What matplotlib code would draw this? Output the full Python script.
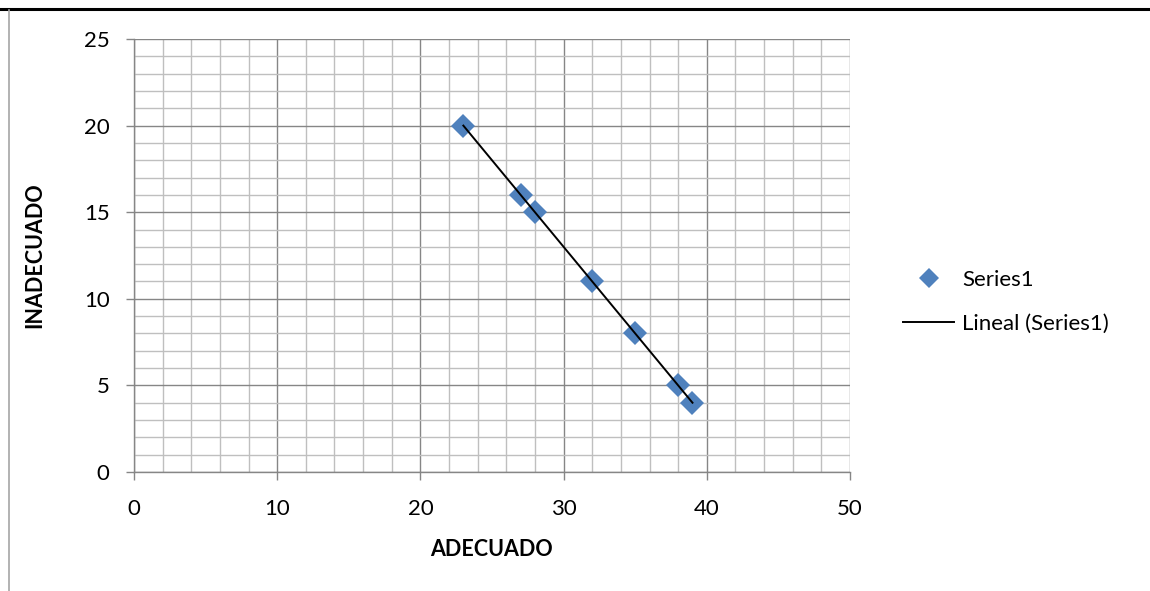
import matplotlib.pyplot as plt
import numpy as np
from matplotlib.lines import Line2D

plt.rcParams['font.family'] = ['Lato', 'DejaVu Sans']

# data
adecuado = [23, 27, 28, 32, 35, 38, 39]
inadecuado = [20, 16, 15, 11, 8, 5, 4]
x_ticks = [0, 10, 20, 30, 40, 50]
y_ticks = [0, 5, 10, 15, 20, 25]

blue = '#4F81BD'
major_grey = '#868686'
minor_grey = '#BFBFBF'

fig = plt.figure(figsize=(11.5, 5.91), dpi=100)
ax = fig.add_axes([134 / 1150, 1 - 472 / 591, (850 - 134) / 1150, (472 - 39) / 591])

# minor grid first, then major on top
ax.set_xticks(np.arange(0, 51, 2), minor=True)
ax.set_yticks(np.arange(0, 26, 1), minor=True)
ax.set_xticks(x_ticks)
ax.set_yticks(y_ticks)
ax.grid(which='minor', color=minor_grey, linewidth=1.0, zorder=0)
ax.grid(which='major', color=major_grey, linewidth=1.0, zorder=0)
ax.set_axisbelow(True)
ax.set_xlim(0, 50)
ax.set_ylim(0, 25)

# linear trendline
coef = np.polyfit(adecuado, inadecuado, 1)
xs = np.array([min(adecuado), max(adecuado)])
ax.plot(xs, np.polyval(coef, xs), color='black', linewidth=1.4, zorder=3)
ax.plot(adecuado, inadecuado, linestyle='none', marker='D', markersize=12.5,
        color=blue, markeredgewidth=0, zorder=2)

for side in ['left', 'bottom']:
    ax.spines[side].set_color(major_grey)
    ax.spines[side].set_linewidth(1.0)
for side in ['top', 'right']:
    ax.spines[side].set_visible(False)

ax.tick_params(which='major', length=5.5, width=1.0, color=major_grey,
               labelsize=16, pad=12)
ax.tick_params(which='minor', length=0)
ax.tick_params(axis='x', pad=14)

ax.set_xlabel('ADECUADO', fontsize=15.5, fontweight='bold', va='center')
ax.set_ylabel('INADECUADO', fontsize=15.5, fontweight='bold', va='center')
ax.xaxis.set_label_coords((492 - 134) / 716, (472 - 550) / 433)
ax.yaxis.set_label_coords((35 - 134) / 716, (472 - 255) / 433)

handles = [
    Line2D([], [], linestyle='none', marker='D', markersize=10, color=blue,
           markeredgewidth=0, label='Series1'),
    Line2D([], [], color='black', linewidth=1.4, label='Lineal (Series1)'),
]
fig.legend(handles=handles, loc='center left', bbox_to_anchor=(903 / 1150, 1 - 302 / 591),
           frameon=False, fontsize=16, handlelength=2.3, handletextpad=0.35,
           labelspacing=1.1, borderpad=0, borderaxespad=0)

# page frame lines from the original screenshot
fig.add_artist(Line2D([0, 1], [1 - 9 / 591, 1 - 9 / 591], color='black', linewidth=2.2,
                      transform=fig.transFigure))
fig.add_artist(Line2D([9 / 1150, 9 / 1150], [0, 1 - 10 / 591], color='#A6A6A6', linewidth=1.2,
                      transform=fig.transFigure))

fig.savefig('out.png', dpi=100)
